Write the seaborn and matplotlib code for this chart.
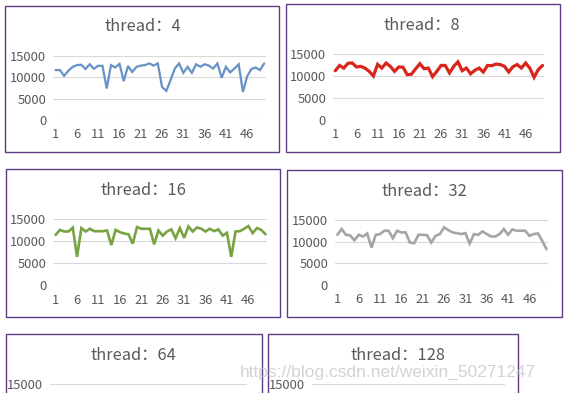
import numpy as np
import pandas as pd
import matplotlib
matplotlib.use("Agg")
import matplotlib.pyplot as plt
import seaborn as sns
from matplotlib.patches import Rectangle

runs = list(range(1, 51))
x_tick_values = list(range(1, 50, 5))
y_tick_values = [0, 5000, 10000, 15000]

thread_4 = [11640, 11640, 10300, 11500, 12400, 12800, 12900, 11900, 13000, 11950,
            12650, 12650, 7340, 12800, 12250, 13100, 9060, 12600, 11200, 12400,
            12700, 12800, 13200, 12700, 13200, 7700, 6800, 9300, 12000, 13200,
            11000, 12400, 11000, 13000, 12400, 13000, 12700, 12000, 13200, 9850,
            12400, 11100, 12000, 13000, 6560, 10200, 11900, 12250, 11650, 13200]
thread_8 = [11200, 12400, 11800, 12900, 12950, 12050, 12200, 11800, 11050, 10000,
            12650, 11800, 12950, 12200, 11050, 12050, 12000, 10300, 10400, 11650,
            12800, 11650, 11800, 9850, 11050, 12400, 12400, 10700, 12200, 13200,
            11200, 11800, 10500, 11300, 11800, 10900, 12400, 12350, 12700, 12600,
            12200, 10900, 12100, 12600, 11800, 12950, 11800, 9700, 11450, 12400]
thread_16 = [11460, 12600, 12230, 12230, 13080, 6460, 13000, 12230, 12850, 12300,
             12300, 12300, 12460, 9150, 12600, 12080, 11770, 11600, 9460, 13230,
             12850, 12850, 12850, 9300, 12460, 11300, 12230, 12700, 10700, 13000,
             10770, 13380, 12230, 13150, 12850, 12230, 12850, 12300, 12700, 11300,
             11920, 6460, 12230, 12300, 12850, 13460, 11850, 13000, 12600, 11600]
thread_32 = [11640, 12970, 11640, 11480, 10390, 11640, 11250, 11950, 8670, 11640,
             11800, 12580, 12580, 10860, 12580, 12190, 12190, 9840, 9690, 11640,
             11640, 11560, 9840, 11400, 11800, 13360, 12730, 12190, 12030, 11800,
             12030, 9610, 11800, 11640, 12420, 11800, 11250, 11250, 11800, 12970,
             11640, 12890, 12580, 12580, 12580, 11400, 11800, 11950, 10230, 8280]

titles = ["thread：4", "thread：8", "thread：16", "thread：32", "thread：64", "thread：128"]
series = [thread_4, thread_8, thread_16, thread_32, None, None]

W, H = 567, 393
sns.set_theme(style="white")
plt.rcParams["font.family"] = ["Noto Sans CJK SC", "DejaVu Sans"]

fig = plt.figure(figsize=(W / 100, H / 100), dpi=100)
fig.patch.set_facecolor("white")

colors = ["#6792C6", "#D9261C", "#77A343", "#A5A5A5", "#6792C6", "#D9261C"]
lws = [1.6, 2.3, 1.9, 1.9, 1.6, 1.6]

# panel boxes (pixels: x0, y0, x1, y1 from top)
boxes = [(5, 5.5, 278.5, 152), (285.7, 4, 559.5, 151.7),
         (5.7, 169, 280, 316.7), (287, 169.7, 562.3, 316.7),
         (5.7, 334, 261.7, 420), (267.7, 334, 518.3, 420)]
# axes areas (gridline extent x0,x1 ; y of 15000 and of 0)
areas = [(53.3, 265.7, 55.7, 120), (333, 544, 54, 120),
         (53.3, 267, 219.3, 285.3), (335, 548, 220.3, 285),
         (50, 247, 384, 448), (312, 505, 384, 448)]
title_pos = [(142.5, 26), (422, 25), (143.7, 190), (424.7, 191), (133, 355), (398, 355)]

for i in range(6):
    bx0, by0, bx1, by1 = boxes[i]
    fig.add_artist(Rectangle((bx0 / W, 1 - by1 / H), (bx1 - bx0) / W, (by1 - by0) / H,
                             transform=fig.transFigure, fill=False,
                             edgecolor="#5E3C84", linewidth=1.0))
    ax0, ax1, yt, yb = areas[i]
    ax = fig.add_axes([ax0 / W, 1 - yb / H, (ax1 - ax0) / W, (yb - yt) / H])
    ax.set_facecolor("none")
    if series[i] is not None:
        df = pd.DataFrame({"run": runs, "value": series[i]})
        sns.lineplot(data=df, x="run", y="value", ax=ax, color=colors[i],
                     linewidth=lws[i], solid_joinstyle="miter")
    ax.set_xlim(0.45, 50.35)
    ax.set_ylim(0, 15000)
    ax.set_yticks(y_tick_values)
    if series[i] is not None:
        ax.set_xticks(x_tick_values)
        ax.set_xticklabels([str(v) for v in x_tick_values])
        ax.set_yticklabels([str(v) for v in y_tick_values])
    else:
        # lower part of these panels lies below the picture's edge
        ax.set_xticks([])
        ax.set_yticklabels(["", "", "", "15000"])
    ax.grid(axis="y", color="#D9D9D9", linewidth=0.8)
    ax.grid(axis="x", visible=False)
    ax.set_axisbelow(True)
    for s in ax.spines.values():
        s.set_visible(False)
    ax.tick_params(axis="both", length=0, labelsize=9.3, colors="#595959")
    ax.tick_params(axis="y", pad=5)
    ax.tick_params(axis="x", pad=6)
    ax.set_xlabel("")
    ax.set_ylabel("")
    tx, ty = title_pos[i]
    fig.text(tx / W, 1 - ty / H, titles[i], ha="center", va="center",
             fontsize=11.8, color="#595959")

fig.text(388 / W, 1 - 372 / H, "https://blog.csdn.net/weixin_50271247", ha="center",
         va="center", fontsize=12.5, color="#C8C8C8", alpha=0.8,
         family=["Liberation Sans", "DejaVu Sans"])

fig.savefig("out.png", dpi=100, facecolor="white")
